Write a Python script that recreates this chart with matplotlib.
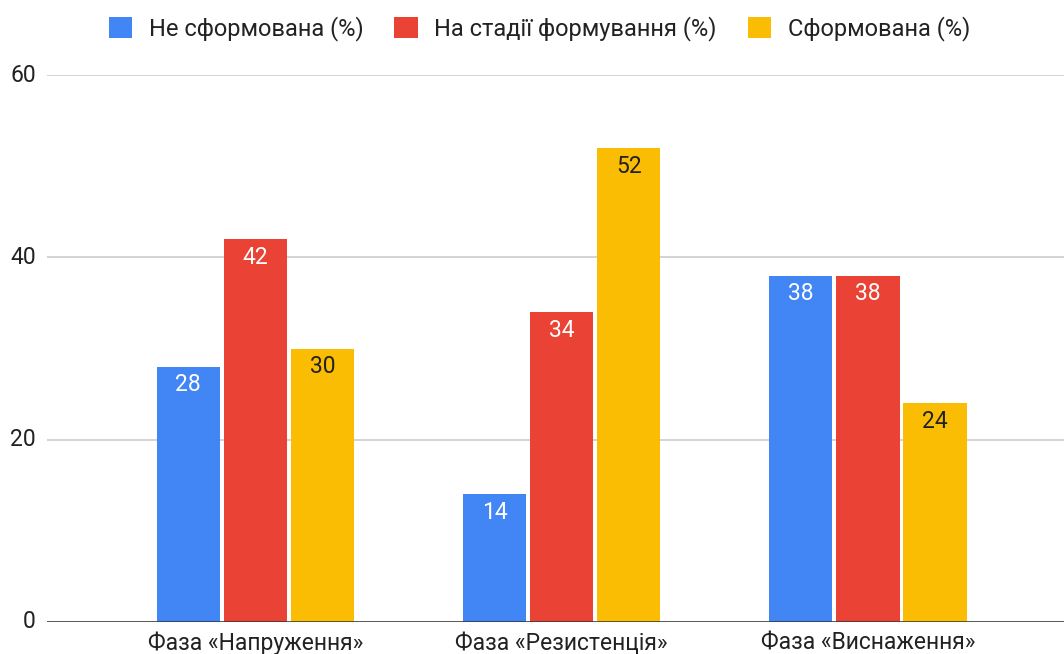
import numpy as np
import matplotlib.pyplot as plt

plt.rcParams['font.family'] = ['Roboto', 'DejaVu Sans']

phases = ['Фаза «Напруження»', 'Фаза «Резистенція»', 'Фаза «Виснаження»']
series = ['Не сформована (%)', 'На стадії формування (%)', 'Сформована (%)']
not_formed = [28, 14, 38]
forming = [42, 34, 38]
formed = [30, 52, 24]
values = [not_formed, forming, formed]
colors = ['#4285F4', '#EA4335', '#FBBC04']
label_colors = ['white', 'white', '#222222']

fig = plt.figure(figsize=(10.64, 6.54), dpi=100)
ax = fig.add_axes([47 / 1064, 32 / 654, 1 - 47 / 1064, 547 / 654])

x = np.arange(len(phases))
w = 0.206
step = 0.219
for i, (vals, c) in enumerate(zip(values, colors)):
    pos = x + (i - 1) * step
    bars = ax.bar(pos, vals, width=w, color=c, label=series[i], zorder=3)
    for b, v in zip(bars, vals):
        ax.text(b.get_x() + b.get_width() / 2, v - 2.0, str(v),
                ha='center', va='center', fontsize=16.5, color=label_colors[i], zorder=4)

ax.set_ylim(0, 60)
ax.set_xlim(-0.68, 2.64)
ax.set_yticks([0, 20, 40, 60])
ax.grid(axis='y', color='#cccccc', linewidth=1.2, zorder=0)
ax.axhline(0, color='#333333', linewidth=1.8, zorder=5)
for s in ax.spines.values():
    s.set_visible(False)
ax.tick_params(axis='both', length=0, labelsize=16.5, colors='#222222')
ax.tick_params(axis='y', pad=8)
ax.tick_params(axis='x', pad=7)
ax.set_xticks(x)
ax.set_xticklabels(phases)
for lbl in ax.get_yticklabels():
    lbl.set_verticalalignment('center')

leg = fig.legend(loc='upper center', bbox_to_anchor=(0.507, 1.0), ncol=3, frameon=False,
                 fontsize=17, handlelength=1.0, handleheight=1.0, columnspacing=1.3,
                 handletextpad=0.7, labelcolor='#222222', borderaxespad=0.3)

fig.savefig('out.png', dpi=100)
